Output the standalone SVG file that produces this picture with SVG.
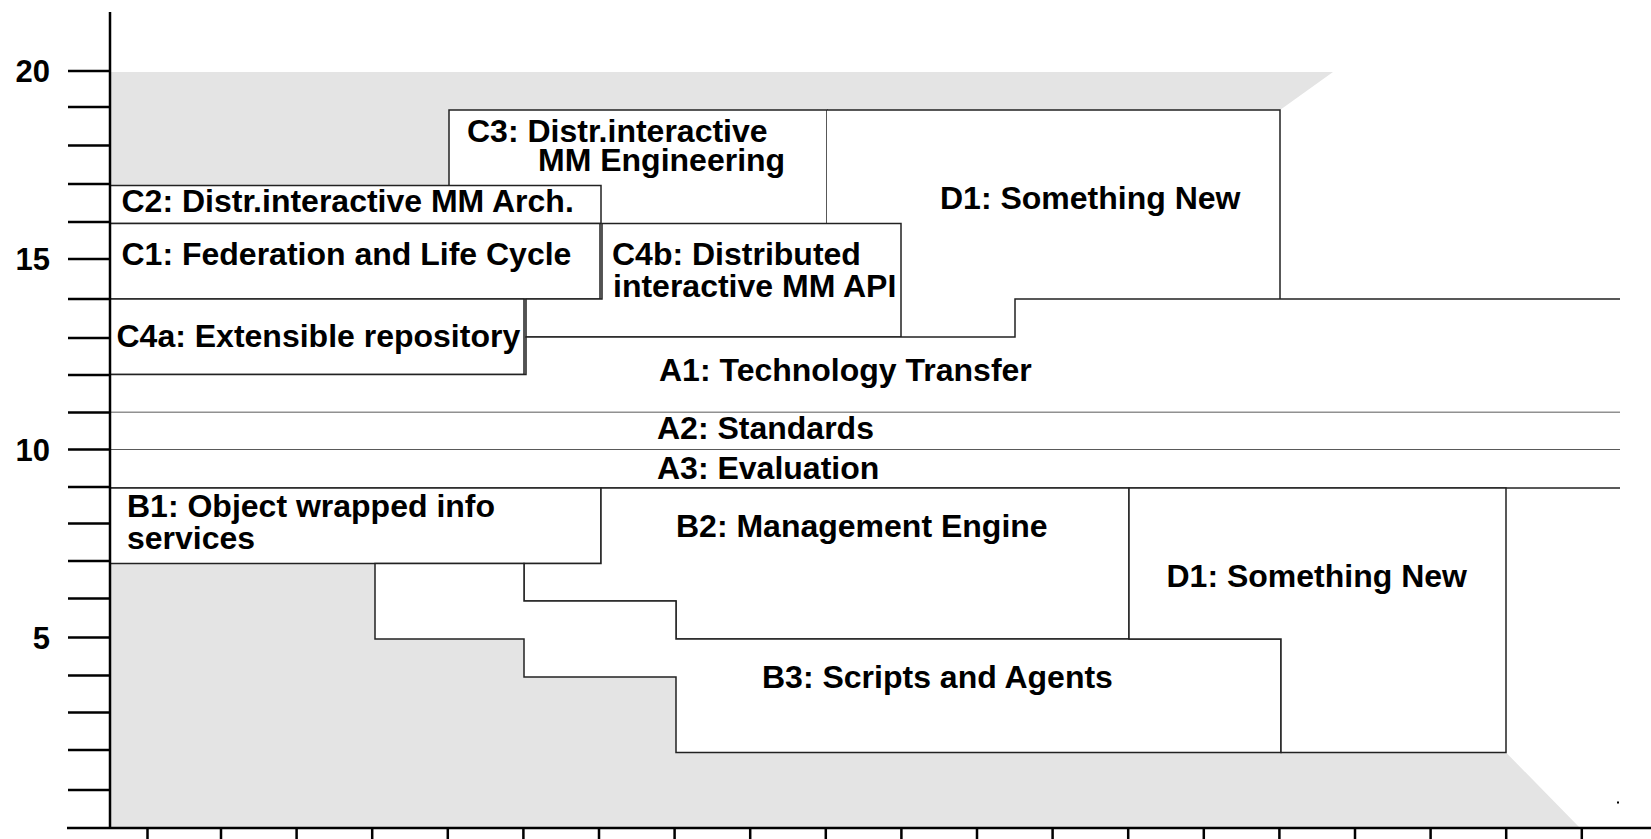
<svg xmlns="http://www.w3.org/2000/svg" width="1651" height="839" viewBox="0 0 1651 839">
<style>
.t{font-family:"Liberation Sans",Arial,Helvetica,sans-serif;font-weight:bold;font-size:32px;fill:#000}
.n{font-size:31px}
.box{fill:#fff;stroke:none}
.edge{fill:none;stroke:#222;stroke-width:1.5}
.ax{fill:none;stroke:#000;stroke-width:2.5}
</style>
<rect x="0" y="0" width="1651" height="839" fill="#fff"/>
<g id="background">
<polygon points="110,72 1333,72 1280,110 1280,299 1506,299 1506,752.5 1580,828 110,828" fill="#e4e4e4"/>
</g>
<g id="C3">
<rect class="box" x="449" y="110" width="378" height="113.5"/>
<polyline class="edge" points="449,223.5 449,110 827,110 827,223.5"/>
<text class="t" x="467" y="141.5">C3: Distr.interactive</text>
<text class="t" x="538" y="171">MM Engineering</text>
</g>
<g id="D1-top">
<polygon class="box" points="827,110 1280,110 1280,299 1015,299 1015,337 901,337 901,223.5 827,223.5"/>
<polyline class="edge" points="827,110 1280,110 1280,299"/>
<text class="t" x="940" y="208.5">D1: Something New</text>
</g>
<g id="C2">
<rect class="box" x="110" y="185.5" width="491" height="38"/>
<rect class="edge" x="110" y="185.5" width="491" height="38"/>
<text class="t" x="121.5" y="211.5">C2: Distr.interactive MM Arch.</text>
</g>
<g id="C1">
<rect class="box" x="110" y="223.5" width="490" height="75.5"/>
<rect class="edge" x="110" y="223.5" width="490" height="75.5"/>
<text class="t" x="121.5" y="265">C1: Federation and Life Cycle</text>
</g>
<g id="C4b">
<polygon class="box" points="602,223.5 901,223.5 901,337 526,337 526,299 602,299"/>
<polygon class="edge" points="602,223.5 901,223.5 901,337 526,337 526,299 602,299"/>
<text class="t" x="612" y="265">C4b: Distributed</text>
<text class="t" x="613" y="296.5">interactive MM API</text>
</g>
<g id="C4a">
<rect class="box" x="110" y="299" width="414" height="75.5"/>
<rect class="edge" x="110" y="299" width="414" height="75.5"/>
<text class="t" x="116.5" y="346.5">C4a: Extensible repository</text>
</g>
<g id="A1">
<polygon class="box" points="110,412.5 110,374.5 526,374.5 526,337 1015,337 1015,299 1620,299 1620,412.5"/>
<polyline class="edge" points="110,374.5 526,374.5 526,337 1015,337 1015,299 1620,299"/>
<line class="edge" x1="110" y1="412.5" x2="1620" y2="412.5"/>
<text class="t" x="659" y="381">A1: Technology Transfer</text>
</g>
<g id="A2">
<rect class="box" x="110" y="412.5" width="1510" height="37.5"/>
<line class="edge" x1="110" y1="450" x2="1620" y2="450"/>
<text class="t" x="657" y="438.5">A2: Standards</text>
</g>
<g id="A3">
<rect class="box" x="110" y="450" width="1510" height="38"/>
<line class="edge" x1="110" y1="488" x2="1620" y2="488"/>
<text class="t" x="657" y="478.5">A3: Evaluation</text>
</g>
<g id="B1">
<rect class="box" x="110" y="488" width="491" height="75.5"/>
<rect class="edge" x="110" y="488" width="491" height="75.5"/>
<text class="t" x="127" y="517">B1: Object wrapped info</text>
<text class="t" x="127" y="548.5">services</text>
</g>
<g id="B2">
<polygon class="box" points="524,563.5 601,563.5 601,488 1129,488 1129,639 676,639 676,601 524,601"/>
<polygon class="edge" points="524,563.5 601,563.5 601,488 1129,488 1129,639 676,639 676,601 524,601"/>
<text class="t" x="676" y="537">B2: Management Engine</text>
</g>
<g id="B3">
<polygon class="box" points="375,563.5 524,563.5 524,601 676,601 676,639 1281,639 1281,752.5 676,752.5 676,677 524,677 524,639 375,639"/>
<polygon class="edge" points="375,563.5 524,563.5 524,601 676,601 676,639 1281,639 1281,752.5 676,752.5 676,677 524,677 524,639 375,639"/>
<text class="t" x="762" y="688">B3: Scripts and Agents</text>
</g>
<g id="D1-bottom">
<polygon class="box" points="1129,488 1506,488 1506,752.5 1281,752.5 1281,639 1129,639"/>
<polygon class="edge" points="1129,488 1506,488 1506,752.5 1281,752.5 1281,639 1129,639"/>
<text class="t" x="1166.5" y="587">D1: Something New</text>
</g>
<g id="connectors"></g>
<g id="axes">
<line class="ax" x1="110" y1="12" x2="110" y2="829"/>
<line class="ax" x1="67" y1="828" x2="1651" y2="828"/>
<path class="ax" d="M68 71H110M68 107H110M68 145.5H110M68 184H110M68 222H110M68 259H110M68 299H110M68 338H110M68 375H110M68 412.5H110M68 449.5H110M68 487H110M68 523.5H110M68 561H110M68 598.5H110M68 637.5H110M68 675.5H110M68 712.5H110M68 750H110M68 790H110"/>
<path class="ax" d="M147.5 827V839M221 828V839M296.6 828V839M372.2 828V839M447.8 828V839M523.4 828V839M599 828V839M674.6 828V839M750.2 828V839M825.8 828V839M901.4 828V839M977 828V839M1052.6 828V839M1128.2 828V839M1203.8 828V839M1279.4 828V839M1355 828V839M1430.6 828V839M1506.2 828V839M1581.8 828V839"/>
<text class="t n" x="50" y="82" text-anchor="end">20</text>
<text class="t n" x="50" y="270" text-anchor="end">15</text>
<text class="t n" x="50" y="460.5" text-anchor="end">10</text>
<text class="t n" x="50" y="648.5" text-anchor="end">5</text>
</g>
<rect x="1617" y="801.5" width="2" height="2" fill="#000"/>
</svg>
